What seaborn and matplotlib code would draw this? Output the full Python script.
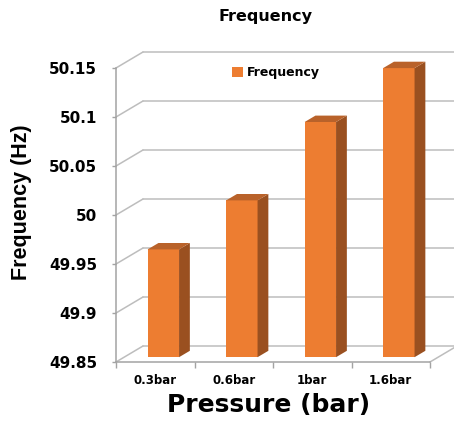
import numpy as np
import matplotlib
matplotlib.use("Agg")
import matplotlib.pyplot as plt
import matplotlib.transforms as mtransforms
from matplotlib.patches import Polygon, Patch
from matplotlib.lines import Line2D
import pandas as pd
import seaborn as sns

# Data
pressure = ["0.3bar", "0.6bar", "1bar", "1.6bar"]
frequency = [49.96, 50.01, 50.09, 50.145]
y_ticks = [49.85, 49.9, 49.95, 50.0, 50.05, 50.1, 50.15]
y_tick_labels = ["49.85", "49.9", "49.95", "50", "50.05", "50.1", "50.15"]
series_name = "Frequency"

sns.set_style("white")
plt.rcParams["font.family"] = ["DejaVu Sans"]
plt.rcParams["text.color"] = "black"
plt.rcParams["axes.labelcolor"] = "black"
plt.rcParams["xtick.labelcolor"] = "black"
plt.rcParams["ytick.labelcolor"] = "black"

FRONT = "#ED7D31"
SIDE = "#9A5020"
TOP = "#B9622A"
GRID = "#BDBDBD"
AXIS = "#A3A3A3"

BASE = y_ticks[0]
DX, DY = 27, 16          # full depth of the 3-D box, in pixels
BAR_Z0, BAR_DEPTH = 0.3, 0.4   # bar placement inside the depth

W, H = 454, 421
fig = plt.figure(figsize=(W / 100, H / 100), dpi=100)
ax = fig.add_axes([116 / W, 59 / H, 314 / W, 294 / H])

df = pd.DataFrame({"Pressure": pressure, "Frequency": frequency})
sns.barplot(data=df, x="Pressure", y="Frequency", width=0.4, color=FRONT,
            saturation=1, ax=ax, zorder=3)

ax.set_xlim(-0.5, len(pressure) - 0.5)
ax.set_ylim(y_ticks[0], y_ticks[-1])


def shifted(frac):
    return mtransforms.offset_copy(ax.transData, fig=fig, x=DX * frac,
                                   y=DY * frac, units="dots")


ident = mtransforms.IdentityTransform()
xl, xr = ax.get_xlim()

# back wall and side wall gridlines
back = shifted(1.0)
for y in y_ticks:
    ax.plot([xl, xr], [y, y], color=GRID, lw=1.1, transform=back,
            clip_on=False, zorder=0.5)
    p = ax.transData.transform((xl, y))
    ax.add_line(Line2D([p[0], p[0] + DX], [p[1], p[1] + DY], color=GRID,
                       lw=1.1, transform=ident, clip_on=False, zorder=0.5))

# right edge of the floor
p = ax.transData.transform((xr, BASE))
ax.add_line(Line2D([p[0], p[0] + DX], [p[1], p[1] + DY], color=GRID,
                   lw=1.1, transform=ident, clip_on=False, zorder=0.5))

# bars: move front faces into the box and add side / top faces
bars = [b for b in ax.patches]
front_shift = np.array([DX * BAR_Z0, DY * BAR_Z0])
depth = np.array([DX * BAR_DEPTH, DY * BAR_DEPTH])
for bar in bars:
    top = bar.get_y() + bar.get_height()
    bar.set_y(BASE)
    bar.set_height(top - BASE)
    bar.set_transform(shifted(BAR_Z0))
    bar.set_clip_on(False)
    bar.set_edgecolor("none")
    x0 = bar.get_x()
    x1 = x0 + bar.get_width()
    fr = ax.transData.transform([(x0, BASE), (x1, BASE), (x1, top), (x0, top)]) + front_shift
    side = [fr[1], fr[1] + depth, fr[2] + depth, fr[2]]
    topf = [fr[3], fr[2], fr[2] + depth, fr[3] + depth]
    ax.add_patch(Polygon(side, closed=True, transform=ident, fc=SIDE,
                         ec="none", clip_on=False, zorder=3))
    ax.add_patch(Polygon(topf, closed=True, transform=ident, fc=TOP,
                         ec="none", clip_on=False, zorder=3))

# spines
for s in ("top", "right"):
    ax.spines[s].set_visible(False)
for s in ("left", "bottom"):
    ax.spines[s].set_color(AXIS)
    ax.spines[s].set_linewidth(1.1)
    ax.spines[s].set_zorder(1)

# y axis
ax.set_yticks(y_ticks, labels=y_tick_labels)
ax.tick_params(axis="y", which="major", left=True, length=3, width=1,
               color=AXIS, labelcolor="black", pad=10.5, labelsize=11)
for lbl in ax.get_yticklabels():
    lbl.set_fontweight("bold")

# x axis
ax.set_xticks(np.arange(len(pressure)), labels=pressure)
ax.set_xticks(np.arange(-0.5, len(pressure)), minor=True)
ax.tick_params(axis="x", which="major", bottom=False, length=0, pad=9,
               labelsize=8.5, labelcolor="black")
ax.tick_params(axis="x", which="minor", bottom=True, length=4, width=1,
               color=AXIS)
for lbl in ax.get_xticklabels():
    lbl.set_fontweight("bold")

ax.set_xlabel("Pressure (bar)", fontsize=18, fontweight="bold",
              color="black")
ax.xaxis.set_label_coords((269 - 116) / 314, (362 - 405) / 294)
ax.xaxis.label.set_va("center")

ax.set_ylabel("Frequency (Hz)", fontsize=15.5, fontweight="bold",
              color="black", family=["Liberation Sans", "DejaVu Sans"])
ax.yaxis.set_label_coords((22 - 116) / 314, (362 - 202) / 294)
ax.yaxis.label.set_va("center")

# title offset accounts for the default 6 pt title pad
ax.set_title("Frequency", fontsize=11.5, fontweight="bold", color="black",
             x=(266 - 116) / 314, y=(362 - 25.3) / 294, va="center")

ax.legend(handles=[Patch(facecolor=FRONT, edgecolor="none")],
          labels=[series_name], loc="center left",
          bbox_to_anchor=(232 / W, (H - 72.5) / H),
          bbox_transform=fig.transFigure, frameon=False,
          handlelength=0.88, handleheight=0.88, handletextpad=0.35,
          borderpad=0, borderaxespad=0,
          prop={"weight": "bold", "size": 9})

fig.savefig("out.png", dpi=100)
